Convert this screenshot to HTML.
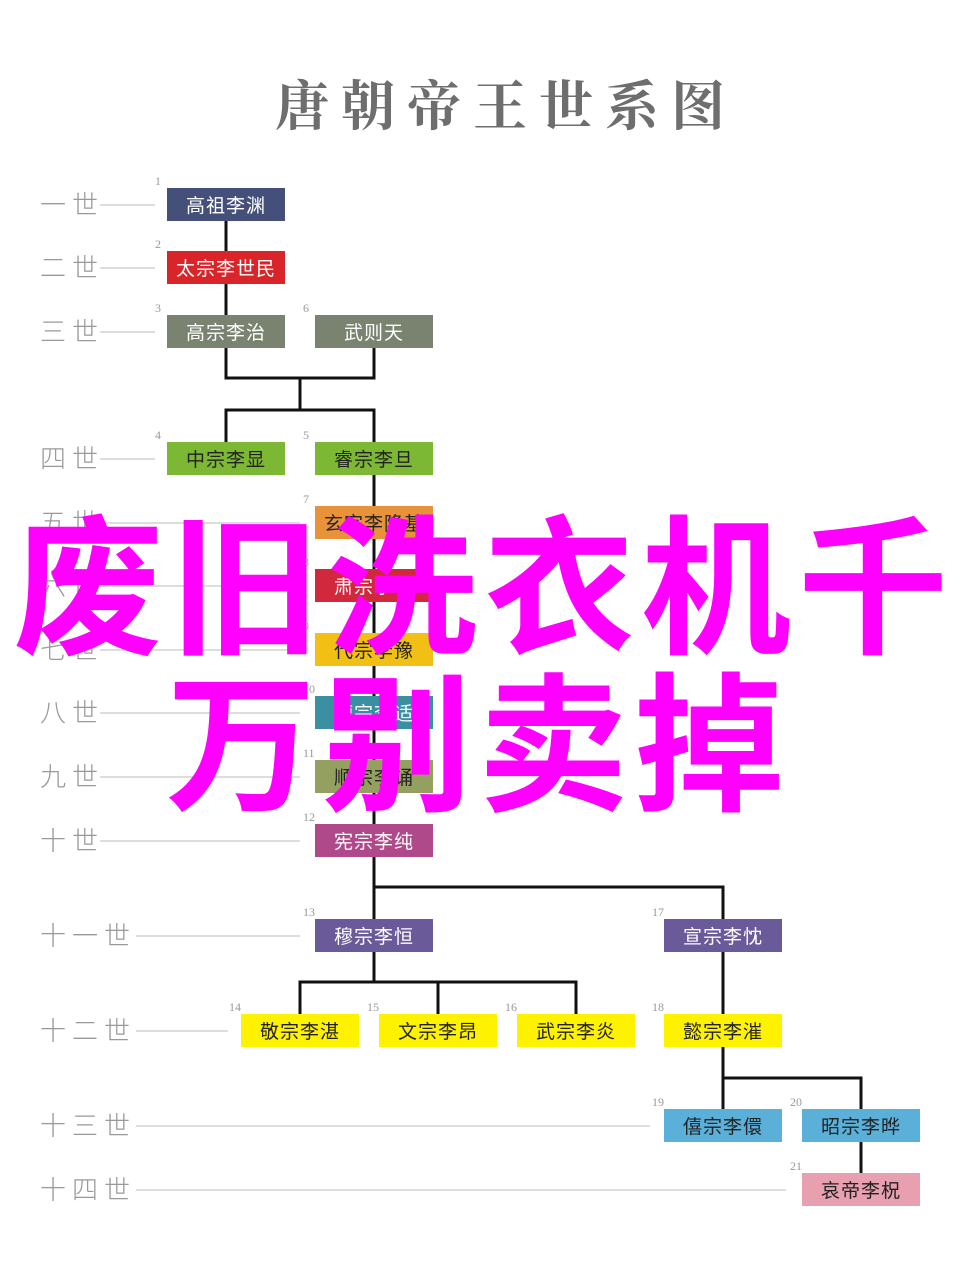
<!DOCTYPE html>
<html><head><meta charset="utf-8"><style>
body{margin:0;width:960px;height:1279px;background:#fff;position:relative;overflow:hidden;font-family:"Liberation Sans","Noto Sans CJK SC",sans-serif}
.t{position:absolute;left:0;width:960px;top:64px;text-align:center;font:bold 54px "Noto Serif CJK SC","WenQuanYi Zen Hei",serif;color:#6e6e6e;letter-spacing:12px;padding-left:52px;box-sizing:border-box}
.g{position:absolute;left:40px;font:300 26px "Noto Sans CJK SC",sans-serif;color:#999;line-height:30px;letter-spacing:6px;white-space:nowrap}
.l{position:absolute;height:1.5px;background:#ddd}
.b{position:absolute;width:118px;height:33px;line-height:33px;text-align:center;font-size:19px;color:#fff;letter-spacing:1px;font-family:"Noto Sans CJK SC",sans-serif}
.d{color:#222}
.n{position:absolute;font:12px "Liberation Serif",serif;color:#999}
.o{position:absolute;font:bold 150px "Noto Sans CJK SC",sans-serif;color:#f0f;white-space:nowrap;line-height:150px}
</style></head><body>
<div class="t">唐朝帝王世系图</div>
<svg style="position:absolute;left:0;top:0" width="960" height="1279"><g stroke="#111" stroke-width="3" fill="none">
<path d="M226 220V315M226 347V378H374V347M300 378V410M226 442V410H374V442M374 474V919M374 887H723V919M374 951V982M300 1014V982H576V1014M438 982V1014M723 951V1109M723 1078H861V1109M861 1141V1173"/></g></svg>
<div class="g" style="top:189px">一世</div><div class="l" style="left:100px;width:55px;top:204px"></div>
<div class="g" style="top:252px">二世</div><div class="l" style="left:100px;width:55px;top:267px"></div>
<div class="g" style="top:316px">三世</div><div class="l" style="left:100px;width:55px;top:331px"></div>
<div class="g" style="top:443px">四世</div><div class="l" style="left:100px;width:55px;top:458px"></div>
<div class="g" style="top:507px">五世</div><div class="l" style="left:100px;width:200px;top:522px"></div>
<div class="g" style="top:570px">六世</div><div class="l" style="left:100px;width:200px;top:585px"></div>
<div class="g" style="top:634px">七世</div><div class="l" style="left:100px;width:200px;top:649px"></div>
<div class="g" style="top:697px">八世</div><div class="l" style="left:100px;width:200px;top:712px"></div>
<div class="g" style="top:761px">九世</div><div class="l" style="left:100px;width:200px;top:776px"></div>
<div class="g" style="top:825px">十世</div><div class="l" style="left:100px;width:200px;top:840px"></div>
<div class="g" style="top:920px">十一世</div><div class="l" style="left:136px;width:164px;top:935px"></div>
<div class="g" style="top:1015px">十二世</div><div class="l" style="left:136px;width:92px;top:1030px"></div>
<div class="g" style="top:1110px">十三世</div><div class="l" style="left:136px;width:514px;top:1125px"></div>
<div class="g" style="top:1174px">十四世</div><div class="l" style="left:136px;width:650px;top:1189px"></div>

<div class="n" style="left:155px;top:174px">1</div><div class="b" style="left:167px;top:188px;background:#44507a">高祖李渊</div>
<div class="n" style="left:155px;top:237px">2</div><div class="b" style="left:167px;top:251px;background:#d9252a">太宗李世民</div>
<div class="n" style="left:155px;top:301px">3</div><div class="b" style="left:167px;top:315px;background:#7a8270">高宗李治</div>
<div class="n" style="left:303px;top:301px">6</div><div class="b" style="left:315px;top:315px;background:#7a8270">武则天</div>
<div class="n" style="left:155px;top:428px">4</div><div class="b d" style="left:167px;top:442px;background:#7cb833">中宗李显</div>
<div class="n" style="left:303px;top:428px">5</div><div class="b d" style="left:315px;top:442px;background:#7cb833">睿宗李旦</div>
<div class="n" style="left:303px;top:492px">7</div><div class="b d" style="left:315px;top:506px;background:#e8923a">玄宗李隆基</div>
<div class="n" style="left:303px;top:555px">8</div><div class="b" style="left:315px;top:569px;background:#d2283e">肃宗李亨</div>
<div class="n" style="left:303px;top:619px">9</div><div class="b d" style="left:315px;top:633px;background:#f2c014">代宗李豫</div>
<div class="n" style="left:303px;top:682px">10</div><div class="b" style="left:315px;top:696px;background:#3a8fa0">德宗李适</div>
<div class="n" style="left:303px;top:746px">11</div><div class="b d" style="left:315px;top:760px;background:#93a060">顺宗李诵</div>
<div class="n" style="left:303px;top:810px">12</div><div class="b" style="left:315px;top:824px;background:#b0498a">宪宗李纯</div>
<div class="n" style="left:303px;top:905px">13</div><div class="b" style="left:315px;top:919px;background:#6a5a9a">穆宗李恒</div>
<div class="n" style="left:652px;top:905px">17</div><div class="b" style="left:664px;top:919px;background:#6a5a9a">宣宗李忱</div>
<div class="n" style="left:229px;top:1000px">14</div><div class="b d" style="left:241px;top:1014px;background:#fff200">敬宗李湛</div>
<div class="n" style="left:367px;top:1000px">15</div><div class="b d" style="left:379px;top:1014px;background:#fff200">文宗李昂</div>
<div class="n" style="left:505px;top:1000px">16</div><div class="b d" style="left:517px;top:1014px;background:#fff200">武宗李炎</div>
<div class="n" style="left:652px;top:1000px">18</div><div class="b d" style="left:664px;top:1014px;background:#fff200">懿宗李漼</div>
<div class="n" style="left:652px;top:1095px">19</div><div class="b d" style="left:664px;top:1109px;background:#5ab0d8">僖宗李儇</div>
<div class="n" style="left:790px;top:1095px">20</div><div class="b d" style="left:802px;top:1109px;background:#5ab0d8">昭宗李晔</div>
<div class="n" style="left:790px;top:1159px">21</div><div class="b d" style="left:802px;top:1173px;background:#e8a0b0">哀帝李柷</div>

<div class="o" style="left:13px;top:503px;letter-spacing:7px">废旧洗衣机千</div>
<div class="o" style="left:166px;top:660px;letter-spacing:6px">万别卖掉</div>
</body></html>
